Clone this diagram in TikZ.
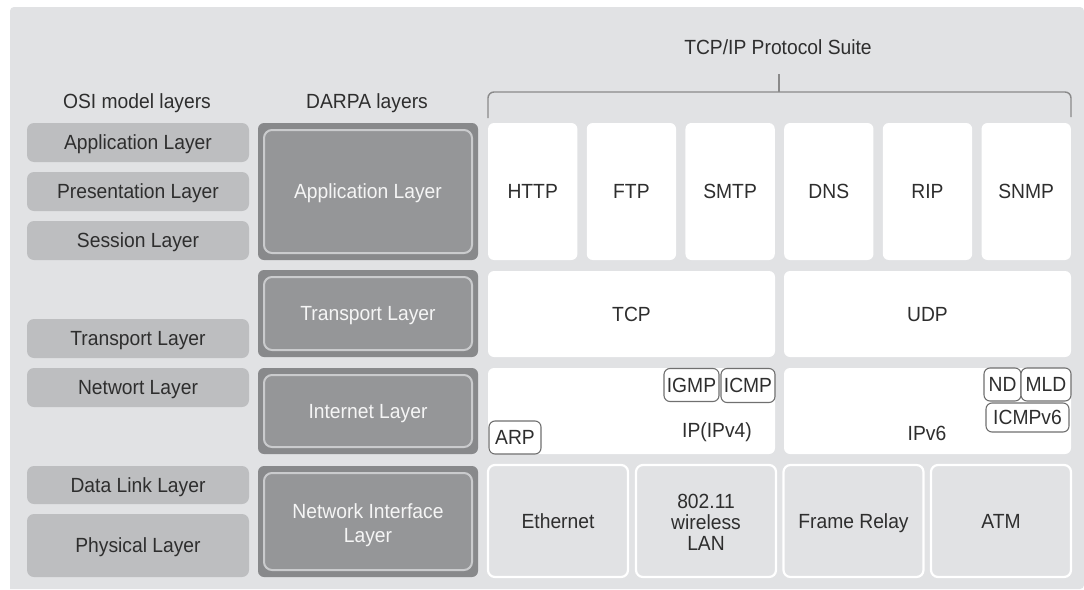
\documentclass[tikz,border=0pt]{standalone}
\usepackage{fontspec}
\setmainfont[FakeStretch=0.94]{Liberation Sans}
\definecolor{panel}{HTML}{E1E2E4}
\definecolor{osibox}{HTML}{BDBEC0}
\definecolor{dout}{HTML}{88898B}
\definecolor{din}{HTML}{959698}
\definecolor{dline}{HTML}{CACBCD}
\definecolor{txt}{HTML}{2E2E2E}
\definecolor{smline}{HTML}{707070}
\definecolor{brk}{HTML}{8A8A8A}
\begin{document}
\begin{tikzpicture}[x=1pt,y=-1pt,
  every node/.style={font=\fontsize{20.5}{22}\selectfont, text=txt, inner sep=0pt, outer sep=0pt, text height=15, text depth=0.4},
  multi/.style={text height=, text depth=, align=center},
  osi/.style={fill=osibox, rounded corners=7, minimum width=222},
  dbox/.style={fill=dout, rounded corners=6, minimum width=220},
  dinner/.style={fill=din, draw=dline, line width=2, rounded corners=8, minimum width=208, text=white!96!black},
  proto/.style={fill=white, rounded corners=6},
  smallbox/.style={fill=white, draw=smline, line width=1.1, rounded corners=6},
  linkbox/.style={fill=panel, draw=white, line width=2.2, rounded corners=7, minimum width=140, minimum height=112},
  bracket/.style={draw=brk, line width=1.4}
]
\useasboundingbox (0,0) rectangle (1084,589);
\fill[white] (0,0) rectangle (1084,589);
\fill[panel] (1084,589) -- (10,589) [rounded corners=4] -- (10,7) -- (1084,7) -- cycle;

% headers
\node (hosi) at (137,101) {OSI model layers};
\node (hdarpa) at (367,101) {DARPA layers};
\node (hsuite) at (778,47) {TCP/IP Protocol Suite};

% bracket
\coordinate (bl) at (488,118);
\coordinate (blt) at (488,92);
\coordinate (brt) at (1071,92);
\coordinate (br) at (1071,117);
\coordinate (bt) at (779,74);
\coordinate (bm) at (779,92);
\draw[bracket, rounded corners=6] (bl) -- (blt) -- (brt) -- (br);
\draw[bracket] (bt) -- (bm);

% OSI layers
\node[osi, minimum height=39] (o1) at (138,142.5) {Application Layer};
\node[osi, minimum height=39] (o2) at (138,191.5) {Presentation Layer};
\node[osi, minimum height=39] (o3) at (138,240.5) {Session Layer};
\node[osi, minimum height=39] (o4) at (138,338.5) {Transport Layer};
\node[osi, minimum height=39] (o5) at (138,387.5) {Networt Layer};
\node[osi, minimum height=38] (o6) at (138,485) {Data Link Layer};
\node[osi, minimum height=63] (o7) at (138,545.5) {Physical Layer};

% DARPA layers
\node[dbox, minimum height=137] (d1) at (368,191.5) {};
\node[dinner, minimum height=123] (d1i) at (d1.center) {Application Layer};
\node[dbox, minimum height=87] (d2) at (368,313.5) {};
\node[dinner, minimum height=73] (d2i) at (d2.center) {Transport Layer};
\node[dbox, minimum height=86] (d3) at (368,411) {};
\node[dinner, minimum height=72] (d3i) at (d3.center) {Internet Layer};
\node[dbox, minimum height=111] (d4) at (368,521.5) {};
\node[dinner, minimum height=97] (d4i) at (d4.center) {};
\node[multi, text=white!96!black, font=\fontsize{20.5}{24}\selectfont] (d4t) at (368,525) {Network Interface\\Layer};

% application protocols
\node[proto, minimum width=89.3, minimum height=137] (http) at (532.7,191.5) {HTTP};
\node[proto, minimum width=89.3, minimum height=137] (ftp) at (631.4,191.5) {FTP};
\node[proto, minimum width=89.3, minimum height=137] (smtp) at (730.1,191.5) {SMTP};
\node[proto, minimum width=89.3, minimum height=137] (dns) at (828.8,191.5) {DNS};
\node[proto, minimum width=89.3, minimum height=137] (rip) at (927.5,191.5) {RIP};
\node[proto, minimum width=89.3, minimum height=137] (snmp) at (1026.2,191.5) {SNMP};

% transport
\node[proto, minimum width=287, minimum height=86] (tcp) at (631.5,314) {TCP};
\node[proto, minimum width=287, minimum height=86] (udp) at (927.5,314) {UDP};

% internet
\node[proto, minimum width=287, minimum height=86] (ip4) at (631.5,411) {};
\node (ip4t) at (717,430) {IP(IPv4)};
\node[smallbox, minimum width=55, minimum height=33] (igmp) at (691.5,385) {IGMP};
\node[smallbox, minimum width=54, minimum height=34] (icmp) at (748,385.5) {ICMP};
\node[smallbox, minimum width=52, minimum height=33] (arp) at (515,437.5) {ARP};
\node[proto, minimum width=287, minimum height=86] (ip6) at (927.5,411) {};
\node (ip6t) at (927,433) {IPv6};
\node[smallbox, minimum width=37, minimum height=33] (nd) at (1002.5,384.5) {ND};
\node[smallbox, minimum width=50, minimum height=33] (mld) at (1046,384.5) {MLD};
\node[smallbox, minimum width=83, minimum height=29] (icmp6) at (1027.5,417.5) {ICMPv6};

% network interface
\node[linkbox] (eth) at (558,521) {Ethernet};
\node[linkbox] (wlan) at (706,521) {};
\node[multi, font=\fontsize{20.5}{21}\selectfont] (wlant) at (706,522) {802.11\\wireless\\LAN};
\node[linkbox] (fr) at (853.5,521) {Frame Relay};
\node[linkbox] (atm) at (1001,521) {ATM};
\end{tikzpicture}
\end{document}
